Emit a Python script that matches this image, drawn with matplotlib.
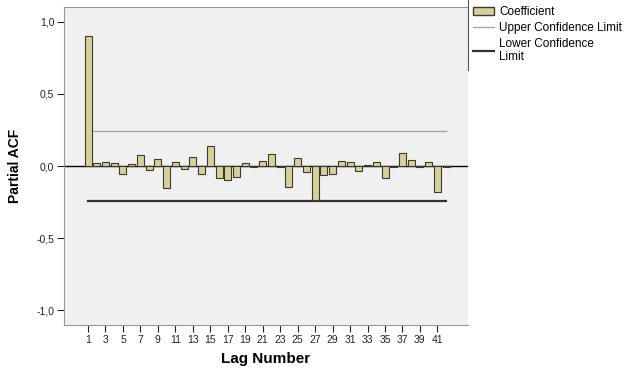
import numpy as np
import matplotlib
matplotlib.use("Agg")
import matplotlib.pyplot as plt
from matplotlib.patches import Patch
from matplotlib.lines import Line2D

plt.rcParams['font.family'] = ['Liberation Sans', 'DejaVu Sans']

# partial autocorrelation coefficients per lag
lags = list(range(1, 43))
pacf = [0.905, 0.023, 0.025, 0.018, -0.055, 0.015, 0.076, -0.030, 0.050, -0.155,
        0.025, -0.018, 0.065, -0.055, 0.140, -0.080, -0.100, -0.075, 0.018, -0.005,
        0.035, 0.080, -0.010, -0.148, 0.053, -0.040, -0.236, -0.062, -0.055, 0.035,
        0.025, -0.032, 0.010, 0.028, -0.080, -0.010, 0.088, 0.044, -0.010, 0.025,
        -0.180, -0.008]
upper_limit = 0.243
lower_limit = -0.243

yticks = [-1.0, -0.5, 0.0, 0.5, 1.0]
ytick_labels = ["-1,0", "-0,5", "0,0", "0,5", "1,0"]
xticks = list(range(1, 42, 2))

fig = plt.figure(figsize=(6.24, 3.68), dpi=100)
ax = fig.add_axes([64 / 624, 1 - 325 / 368, (468 - 64) / 624, (325 - 7) / 368])
ax.set_facecolor("#f0f0f0")

ax.axhline(0, color="black", lw=1.0, zorder=2)
ax.plot([lags[0], lags[-1]], [upper_limit, upper_limit], color="#a0a0a0", lw=0.9, zorder=1)
ax.plot([lags[0], lags[-1]], [lower_limit, lower_limit], color="#333333", lw=1.6, zorder=1)
ax.bar(lags, pacf, width=0.8, color="#d6d19c", edgecolor="#3a3a2a", linewidth=0.8, zorder=3)

ax.set_xlim(-1.75, 44.5)
ax.set_ylim(-1.104, 1.104)
ax.set_yticks(yticks)
ax.set_yticklabels(ytick_labels)
ax.set_xticks(xticks)
ax.tick_params(axis="both", labelsize=7.5, colors="#222222", length=5, width=0.8, pad=2)

ax.spines["right"].set_visible(False)
for side in ["top", "left", "bottom"]:
    ax.spines[side].set_color("#999999")

ax.set_xlabel("Lag Number", fontsize=11, fontweight="bold", labelpad=5)
ax.set_ylabel("Partial ACF", fontsize=10, fontweight="bold", labelpad=10)

# frame line at the left side of the legend
fig.add_artist(Line2D([468 / 624, 468 / 624], [1.0, 1 - 70 / 368],
                      transform=fig.transFigure, color="#555555", lw=0.8))

handles = [
    Patch(facecolor="#d6d19c", edgecolor="#3a3a2a", label="Coefficient"),
    Line2D([], [], color="#a0a0a0", lw=0.9, label="Upper Confidence Limit"),
    Line2D([], [], color="#333333", lw=1.6, label="Lower Confidence\nLimit"),
]
fig.legend(handles=handles, loc="upper left", bbox_to_anchor=(467 / 624, 1.0),
           frameon=False, fontsize=8.5, handlelength=1.7, handletextpad=0.5,
           labelspacing=0.3, borderaxespad=0.15)

fig.savefig("out.png", dpi=100)
